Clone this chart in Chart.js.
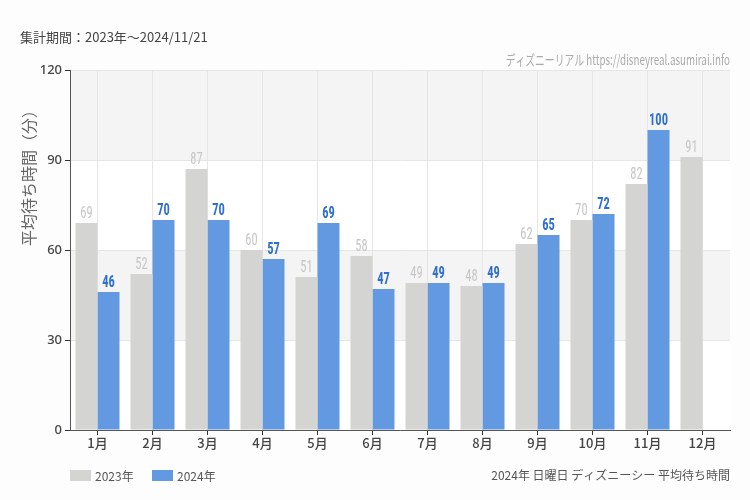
<!DOCTYPE html>
<html><head><meta charset="utf-8">
<script src="https://cdn.jsdelivr.net/npm/chart.js@4/dist/chart.umd.min.js"></script>
<style>html,body{margin:0;padding:0;background:#fcfdfc;}#c{display:block;}</style>
</head><body>
<canvas id="c" width="750" height="500"></canvas>
<script>
const categories = ['1月','2月','3月','4月','5月','6月','7月','8月','9月','10月','11月','12月'];
const series2023 = [69,52,87,60,51,58,49,48,62,70,82,91];
const series2024 = [46,70,70,57,69,47,49,49,65,72,100,null];
const yTicks = [0,30,60,90,120];
const seriesNames = ['2023年','2024年'];
const titleText = '集計期間：2023年～2024/11/21';
const creditText = 'ディズニーリアル https://disneyreal.asumirai.info';
const captionText = '2024年 日曜日 ディズニーシー 平均待ち時間';
const yTitle = '平均待ち時間（分）';

const JP = '"Noto Sans CJK JP","Noto Sans",sans-serif';
const NARROW = '"Liberation Sans Narrow","Roboto Condensed","Liberation Sans",sans-serif';
const colors = ['#d4d4d2','#6399e1'];
const labelColors = ['#c6c6c6','#2e6fd0'];

const deco = {
  id:'deco',
  beforeDraw(chart){
    const {ctx, chartArea:a, scales:{y}} = chart;
    ctx.save();
    ctx.fillStyle='#fcfdfc';
    ctx.fillRect(0,0,chart.width,chart.height);
    for(let i=0;i<yTicks.length-1;i++){
      ctx.fillStyle = (i%2===1)?'#f4f4f4':'#ffffff';
      const t=y.getPixelForValue(yTicks[i+1]), b=y.getPixelForValue(yTicks[i]);
      ctx.fillRect(a.left,t,a.right-a.left,b-t);
    }
    ctx.restore();
  },
  afterDraw(chart){
    const {ctx, chartArea:a} = chart;
    ctx.save();
    // title
    ctx.fillStyle='#444'; ctx.font='13px '+JP; ctx.textBaseline='middle'; ctx.textAlign='left';
    ctx.fillText(titleText,20,37);
    // credit
    ctx.fillStyle='#aaa'; ctx.textAlign='right';
    ctx.save(); ctx.translate(730,60); ctx.scale(0.7,1); ctx.font='14px '+JP; ctx.fillText(creditText,0,0); ctx.restore();
    // y title
    ctx.save(); ctx.translate(29,174); ctx.rotate(-Math.PI/2);
    ctx.textAlign='center'; ctx.fillStyle='#666'; ctx.font='16px '+JP; ctx.fillText(yTitle,0,0); ctx.restore();
    // legend
    ctx.font='12px '+JP; ctx.textAlign='left';
    let x=70;
    seriesNames.forEach((n,i)=>{
      ctx.fillStyle=colors[i]; ctx.fillRect(x,470,21,11);
      ctx.fillStyle='#555'; ctx.fillText(n,x+25,476);
      x+=82;
    });
    // caption
    ctx.textAlign='right'; ctx.font='12px '+JP; ctx.fillStyle='#555';
    ctx.fillText(captionText,730,475);
    // data labels
    chart.data.datasets.forEach((ds,di)=>{
      const meta=chart.getDatasetMeta(di);
      meta.data.forEach((bar,i)=>{
        const v=ds.data[i]; if(v==null) return;
        ctx.save(); ctx.translate(bar.x,bar.y-1); ctx.scale(0.78,1);
        ctx.fillStyle=labelColors[di]; ctx.textAlign='center'; ctx.textBaseline='bottom';
        ctx.font=(di===1?'bold ':'')+'16px '+NARROW;
        ctx.fillText(String(v),0,0); ctx.restore();
      });
    });
    ctx.restore();
  }
};

new Chart(document.getElementById('c'),{
  type:'bar',
  data:{labels:categories,datasets:[
    {label:seriesNames[0],data:series2023,backgroundColor:colors[0],categoryPercentage:0.8,barPercentage:1.0},
    {label:seriesNames[1],data:series2024,backgroundColor:colors[1],categoryPercentage:0.8,barPercentage:1.0}
  ]},
  options:{
    responsive:false,animation:false,
    layout:{padding:{left:0,top:70,right:20,bottom:0}},
    plugins:{legend:{display:false},tooltip:{enabled:false}},
    scales:{
      x:{
        afterFit(s){s.height=70;},
        grid:{offset:false,color:'#e6e6e6',tickColor:'#333',tickLength:5,drawOnChartArea:true},
        border:{color:'#555',width:1},
        ticks:{color:'#444',font:{family:JP,size:13,weight:'500'},padding:0,maxRotation:0}
      },
      y:{
        min:0,max:120,
        afterFit(s){s.width=70;},
        afterBuildTicks(s){s.ticks=yTicks.map(v=>({value:v}));},
        grid:{color:'#e6e6e6',tickColor:'#333',tickLength:5},
        border:{color:'#555',width:1},
        ticks:{color:'#444',font:{family:'"Noto Sans",sans-serif',size:13,weight:'500'},padding:3}
      }
    }
  },
  plugins:[deco]
});
</script>
</body></html>
